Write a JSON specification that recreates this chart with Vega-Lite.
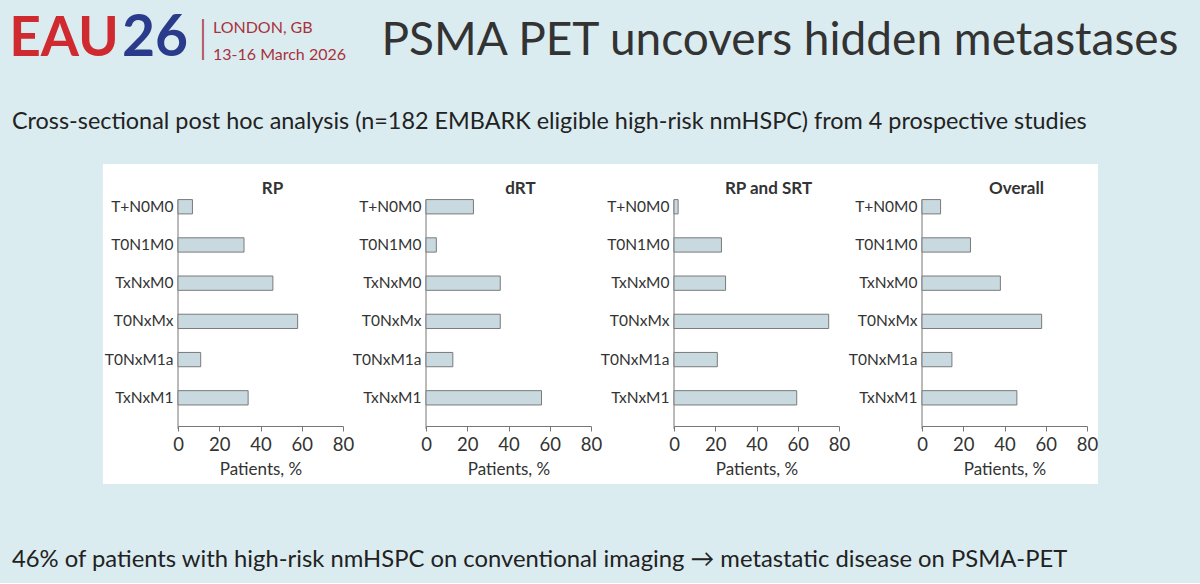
{
  "$schema": "https://vega.github.io/schema/vega-lite/v6.json",
  "background": "#dbecf1",
  "padding": {"left": 0, "top": 0, "right": 0, "bottom": 11},
  "config": {
    "font": "Lato",
    "view": {"fill": "white", "stroke": null},
    "title": {"font": "Lato", "fontSize": 17, "fontWeight": "bold", "color": "#333333"},
    "axis": {"zindex": 1}
  },
  "datasets": {
    "tnm": [
      {"study": "RP", "stage": "T+N0M0", "pct": 7},
      {"study": "RP", "stage": "T0N1M0", "pct": 32},
      {"study": "RP", "stage": "TxNxM0", "pct": 46},
      {"study": "RP", "stage": "T0NxMx", "pct": 58},
      {"study": "RP", "stage": "T0NxM1a", "pct": 11},
      {"study": "RP", "stage": "TxNxM1", "pct": 34},
      {"study": "dRT", "stage": "T+N0M0", "pct": 23},
      {"study": "dRT", "stage": "T0N1M0", "pct": 5},
      {"study": "dRT", "stage": "TxNxM0", "pct": 36},
      {"study": "dRT", "stage": "T0NxMx", "pct": 36},
      {"study": "dRT", "stage": "T0NxM1a", "pct": 13},
      {"study": "dRT", "stage": "TxNxM1", "pct": 56},
      {"study": "RP and SRT", "stage": "T+N0M0", "pct": 2},
      {"study": "RP and SRT", "stage": "T0N1M0", "pct": 23},
      {"study": "RP and SRT", "stage": "TxNxM0", "pct": 25},
      {"study": "RP and SRT", "stage": "T0NxMx", "pct": 75},
      {"study": "RP and SRT", "stage": "T0NxM1a", "pct": 21},
      {"study": "RP and SRT", "stage": "TxNxM1", "pct": 59.5},
      {"study": "Overall", "stage": "T+N0M0", "pct": 9},
      {"study": "Overall", "stage": "T0N1M0", "pct": 23.5},
      {"study": "Overall", "stage": "TxNxM0", "pct": 38},
      {"study": "Overall", "stage": "T0NxMx", "pct": 58},
      {"study": "Overall", "stage": "T0NxM1a", "pct": 14.5},
      {"study": "Overall", "stage": "TxNxM1", "pct": 46}
    ]
  },
  "title": {
    "text": "46% of patients with high-risk nmHSPC on conventional imaging → metastatic disease on PSMA-PET",
    "orient": "bottom", "anchor": "start", "frame": "group",
    "font": "Lato", "fontSize": 23.8, "fontWeight": "normal", "color": "#222222",
    "dx": 12, "offset": 64
  },
  "spacing": 31,
  "vconcat": [
    {
      "bounds": "flush",
      "spacing": 0,
      "hconcat": [
        {"width": 128, "height": 78, "data": {"values": [{}]},
         "mark": {"type": "text", "text": "EAU", "font": "Lato", "fontSize": 55, "fontWeight": "bold", "color": "#cf2a2f"},
         "encoding": {}},
        {"width": 54, "height": 78, "data": {"values": [{}]},
         "mark": {"type": "text", "text": "26", "font": "Lato", "fontSize": 57, "fontWeight": "bold", "color": "#2b3b8b"},
         "encoding": {}},
        {"width": 42, "height": 78, "data": {"values": [{}]},
         "mark": {"type": "text", "text": "|", "font": "Lato", "fontSize": 44, "fontWeight": 300, "color": "#b0444c"},
         "encoding": {}},
        {"width": 110, "height": 78, "data": {"values": [{}]},
         "mark": {"type": "text", "text": ["LONDON, GB", "13-16 March 2026"], "lineHeight": 27, "align": "left", "dx": -66, "dy": -11, "font": "Lato", "fontSize": 16, "color": "#a8323c"},
         "encoding": {}},
        {"width": 26, "height": 78, "data": {"values": [{}]},
         "mark": {"type": "text", "text": ""},
         "encoding": {}},
        {"width": 840, "height": 78, "data": {"values": [{}]},
         "mark": {"type": "text", "text": "PSMA PET uncovers hidden metastases", "font": "Lato", "fontSize": 46, "color": "#333333", "dy": 2},
         "encoding": {}}
      ]
    },
    {
      "title": {
        "text": "Cross-sectional post hoc analysis (n=182 EMBARK eligible high-risk nmHSPC) from 4 prospective studies",
        "anchor": "start", "frame": "group",
        "font": "Lato", "fontSize": 23.4, "fontWeight": "normal", "color": "#222222",
        "dx": 12, "offset": 30
      },
      "bounds": "flush",
      "spacing": 83,
      "hconcat": [
        {"width": 95, "height": 320, "view": {"fill": "#dbecf1", "stroke": null},
         "data": {"values": [{}]}, "mark": {"type": "text", "text": ""}, "encoding": {}},
        {
          "width": 165, "height": 320,
          "title": {"text": "RP", "offset": -34, "dx": 12},
          "layer": [
            {"data": {"values": [{}]}, "mark": {"type": "rect", "color": "white"},
             "encoding": {"x": {"datum": -36.4, "type": "quantitative"}, "x2": {"datum": 120.3}}},
            {"data": {"values": [{}]}, "mark": {"type": "rule", "color": "#777777", "strokeWidth": 1},
             "encoding": {"x": {"datum": 0, "type": "quantitative"},
                          "y": {"datum": "T+N0M0", "type": "nominal", "bandPosition": 0},
                          "y2": {"datum": "_", "bandPosition": 0}}},
            {"data": {"name": "tnm"}, "transform": [{"filter": "datum.study === 'RP'"}],
             "mark": {"type": "bar", "fill": "#c9d9e0", "stroke": "#7a7a7a", "strokeWidth": 1},
             "encoding": {
               "x": {"field": "pct", "type": "quantitative",
                     "scale": {"domain": [0, 80], "nice": false, "zero": true},
                     "axis": {"values": [0, 20, 40, 60, 80], "offset": -58, "zindex": 1, "grid": false, "domainColor": "#777777", "tickColor": "#777777", "tickSize": 5, "labelFontSize": 18.5, "labelColor": "#333333", "labelPadding": 4, "labelFlush": false, "title": "Patients, %", "titleFontSize": 17, "titleFontWeight": "normal", "titleColor": "#333333", "titlePadding": 8}},
               "y": {"field": "stage", "type": "nominal", "sort": null,
                     "scale": {"domain": ["T+N0M0", "T0N1M0", "TxNxM0", "T0NxMx", "T0NxM1a", "TxNxM1", "_"], "paddingInner": 0.6257, "paddingOuter": 1.091, "align": 0.4657},
                     "axis": {"values": ["T+N0M0", "T0N1M0", "TxNxM0", "T0NxMx", "T0NxM1a", "TxNxM1"], "zindex": 1, "domain": false, "ticks": false, "grid": false, "labelPadding": 5, "labelFontSize": 15.5, "labelColor": "#333333", "title": null}}
             }}
          ]
        },
        {
          "width": 165, "height": 320,
          "title": {"text": "dRT", "offset": -34, "dx": 12},
          "layer": [
            {"data": {"values": [{}]}, "mark": {"type": "rect", "color": "white"},
             "encoding": {"x": {"datum": 0, "type": "quantitative"}, "x2": {"datum": 120.3}}},
            {"data": {"values": [{}]}, "mark": {"type": "rule", "color": "#777777", "strokeWidth": 1},
             "encoding": {"x": {"datum": 0, "type": "quantitative"},
                          "y": {"datum": "T+N0M0", "type": "nominal", "bandPosition": 0},
                          "y2": {"datum": "_", "bandPosition": 0}}},
            {"data": {"name": "tnm"}, "transform": [{"filter": "datum.study === 'dRT'"}],
             "mark": {"type": "bar", "fill": "#c9d9e0", "stroke": "#7a7a7a", "strokeWidth": 1},
             "encoding": {
               "x": {"field": "pct", "type": "quantitative",
                     "scale": {"domain": [0, 80], "nice": false, "zero": true},
                     "axis": {"values": [0, 20, 40, 60, 80], "offset": -58, "zindex": 1, "grid": false, "domainColor": "#777777", "tickColor": "#777777", "tickSize": 5, "labelFontSize": 18.5, "labelColor": "#333333", "labelPadding": 4, "labelFlush": false, "title": "Patients, %", "titleFontSize": 17, "titleFontWeight": "normal", "titleColor": "#333333", "titlePadding": 8}},
               "y": {"field": "stage", "type": "nominal", "sort": null,
                     "scale": {"domain": ["T+N0M0", "T0N1M0", "TxNxM0", "T0NxMx", "T0NxM1a", "TxNxM1", "_"], "paddingInner": 0.6257, "paddingOuter": 1.091, "align": 0.4657},
                     "axis": {"values": ["T+N0M0", "T0N1M0", "TxNxM0", "T0NxMx", "T0NxM1a", "TxNxM1"], "zindex": 1, "domain": false, "ticks": false, "grid": false, "labelPadding": 5, "labelFontSize": 15.5, "labelColor": "#333333", "title": null}}
             }}
          ]
        },
        {
          "width": 165, "height": 320,
          "title": {"text": "RP and SRT", "offset": -34, "dx": 12},
          "layer": [
            {"data": {"values": [{}]}, "mark": {"type": "rect", "color": "white"},
             "encoding": {"x": {"datum": 0, "type": "quantitative"}, "x2": {"datum": 120.3}}},
            {"data": {"values": [{}]}, "mark": {"type": "rule", "color": "#777777", "strokeWidth": 1},
             "encoding": {"x": {"datum": 0, "type": "quantitative"},
                          "y": {"datum": "T+N0M0", "type": "nominal", "bandPosition": 0},
                          "y2": {"datum": "_", "bandPosition": 0}}},
            {"data": {"name": "tnm"}, "transform": [{"filter": "datum.study === 'RP and SRT'"}],
             "mark": {"type": "bar", "fill": "#c9d9e0", "stroke": "#7a7a7a", "strokeWidth": 1},
             "encoding": {
               "x": {"field": "pct", "type": "quantitative",
                     "scale": {"domain": [0, 80], "nice": false, "zero": true},
                     "axis": {"values": [0, 20, 40, 60, 80], "offset": -58, "zindex": 1, "grid": false, "domainColor": "#777777", "tickColor": "#777777", "tickSize": 5, "labelFontSize": 18.5, "labelColor": "#333333", "labelPadding": 4, "labelFlush": false, "title": "Patients, %", "titleFontSize": 17, "titleFontWeight": "normal", "titleColor": "#333333", "titlePadding": 8}},
               "y": {"field": "stage", "type": "nominal", "sort": null,
                     "scale": {"domain": ["T+N0M0", "T0N1M0", "TxNxM0", "T0NxMx", "T0NxM1a", "TxNxM1", "_"], "paddingInner": 0.6257, "paddingOuter": 1.091, "align": 0.4657},
                     "axis": {"values": ["T+N0M0", "T0N1M0", "TxNxM0", "T0NxMx", "T0NxM1a", "TxNxM1"], "zindex": 1, "domain": false, "ticks": false, "grid": false, "labelPadding": 5, "labelFontSize": 15.5, "labelColor": "#333333", "title": null}}
             }}
          ]
        },
        {
          "width": 165, "height": 320,
          "title": {"text": "Overall", "offset": -34, "dx": 12},
          "layer": [
            {"data": {"values": [{}]}, "mark": {"type": "rect", "color": "white"},
             "encoding": {"x": {"datum": 0, "type": "quantitative"}, "x2": {"datum": 85.3}}},
            {"data": {"values": [{}]}, "mark": {"type": "rule", "color": "#777777", "strokeWidth": 1},
             "encoding": {"x": {"datum": 0, "type": "quantitative"},
                          "y": {"datum": "T+N0M0", "type": "nominal", "bandPosition": 0},
                          "y2": {"datum": "_", "bandPosition": 0}}},
            {"data": {"name": "tnm"}, "transform": [{"filter": "datum.study === 'Overall'"}],
             "mark": {"type": "bar", "fill": "#c9d9e0", "stroke": "#7a7a7a", "strokeWidth": 1},
             "encoding": {
               "x": {"field": "pct", "type": "quantitative",
                     "scale": {"domain": [0, 80], "nice": false, "zero": true},
                     "axis": {"values": [0, 20, 40, 60, 80], "offset": -58, "zindex": 1, "grid": false, "domainColor": "#777777", "tickColor": "#777777", "tickSize": 5, "labelFontSize": 18.5, "labelColor": "#333333", "labelPadding": 4, "labelFlush": false, "title": "Patients, %", "titleFontSize": 17, "titleFontWeight": "normal", "titleColor": "#333333", "titlePadding": 8}},
               "y": {"field": "stage", "type": "nominal", "sort": null,
                     "scale": {"domain": ["T+N0M0", "T0N1M0", "TxNxM0", "T0NxMx", "T0NxM1a", "TxNxM1", "_"], "paddingInner": 0.6257, "paddingOuter": 1.091, "align": 0.4657},
                     "axis": {"values": ["T+N0M0", "T0N1M0", "TxNxM0", "T0NxMx", "T0NxM1a", "TxNxM1"], "zindex": 1, "domain": false, "ticks": false, "grid": false, "labelPadding": 5, "labelFontSize": 15.5, "labelColor": "#333333", "title": null}}
             }}
          ]
        }
      ]
    }
  ]
}
